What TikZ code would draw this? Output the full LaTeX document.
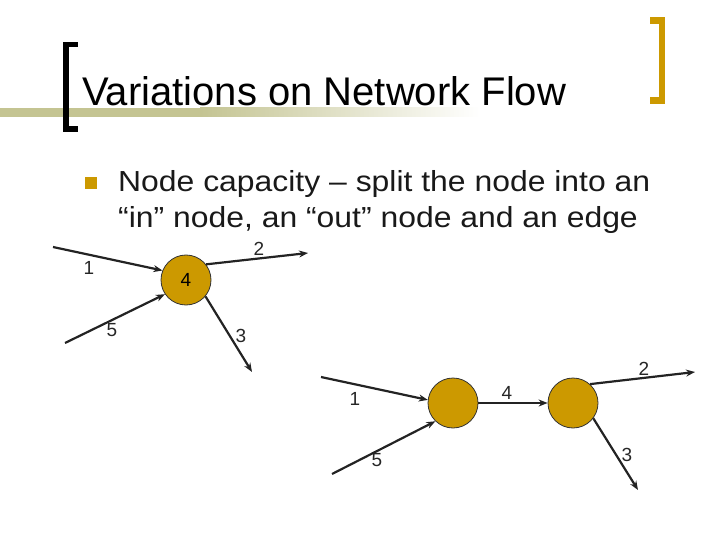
\documentclass[tikz,border=0pt]{standalone}
\usepackage{fontspec}
\setmainfont{Liberation Sans}
\usetikzlibrary{arrows.meta}
\definecolor{gold}{RGB}{204,153,0}
\definecolor{khaki}{RGB}{196,196,146}
\definecolor{edgecol}{RGB}{35,35,35}
\tikzset{
  vnode/.style={circle,fill=gold,draw=black!80,line width=0.8pt,minimum size=50pt,inner sep=0pt,font=\fontsize{19}{19}\selectfont},
  flow/.style={draw=edgecol,line width=2.2pt,-{Stealth[length=9pt,width=7pt]}},
  lbl/.style={font=\fontsize{19}{19}\selectfont,text=black!85,inner sep=0pt},
  bodytxt/.style={anchor=base west,inner sep=0pt,font=\fontsize{29}{36}\selectfont,text=black!90},
}
\begin{document}
\begin{tikzpicture}[x=1pt,y=-1pt]
\useasboundingbox (0,0) rectangle (720,540);
% gradient bar
\fill[khaki] (0,108) rectangle (200,117);
\shade[left color=khaki,right color=white] (200,108) rectangle (480,117);
% left bracket
\fill[black] (63,42) rectangle (69,132);
\fill[black] (63,42) rectangle (78,47);
\fill[black] (63,126) rectangle (78,132);
% right bracket
\fill[gold] (659,17) rectangle (665,104);
\fill[gold] (650,17) rectangle (665,24);
\fill[gold] (650,97) rectangle (665,104);
% title
\node[anchor=base west,inner sep=0pt,font=\fontsize{40}{40}\selectfont] (title) at (82,106) {Variations on Network Flow};
% bullet
\fill[gold] (85,177) rectangle (97,189);
\node[bodytxt] (l1) at (118,192) {\scalebox{1.1}[1]{Node capacity -- split the node into an}};
\node[bodytxt] (l2) at (118,228) {\scalebox{1.1}[1]{“in” node, an “out” node and an edge}};
% top graph
\node[vnode] (t) at (186,280) {4};
\coordinate (t1) at (53,247);
\coordinate (t5) at (65,343);
\coordinate (t2) at (308,253);
\coordinate (t3) at (252,372);
\draw[flow] (t1) -- (t.158);
\draw[flow] (t5) -- (t.214);
\draw[flow] (t.38) -- (t2);
\draw[flow] (t.-40) -- (t3);
\node[lbl] (tl1) at (89,268) {1};
\node[lbl] (tl5) at (112,330) {5};
\node[lbl] (tl2) at (259,249) {2};
\node[lbl] (tl3) at (241,336) {3};
% bottom graph
\node[vnode] (a) at (453,403) {};
\node[vnode] (b) at (573,403) {};
\coordinate (b1) at (321,377);
\coordinate (b5) at (332,474);
\coordinate (b2) at (695,372);
\coordinate (b3) at (638,490);
\draw[flow] (b1) -- (a.173);
\draw[flow] (b5) -- (a.226);
\draw[flow] (a.east) -- (b.west);
\draw[flow] (b.48) -- (b2);
\draw[flow] (b.-37) -- (b3);
\node[lbl] (bl1) at (355,399) {1};
\node[lbl] (bl5) at (377,460) {5};
\node[lbl] (bl4) at (507,393) {4};
\node[lbl] (bl2) at (644,369) {2};
\node[lbl] (bl3) at (627,455) {3};
\end{tikzpicture}
\end{document}
